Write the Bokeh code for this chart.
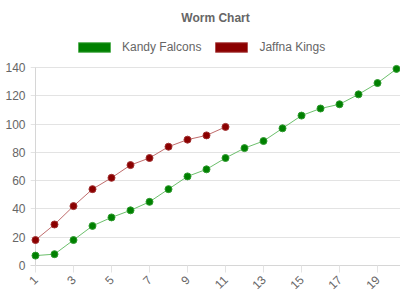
import math
from bokeh.plotting import figure
from bokeh.models import Legend, LegendItem, FixedTicker, Title, ColumnDataSource
from bokeh.embed import file_html
from bokeh.resources import INLINE

overs = list(range(1, 21))
kandy = [7, 8, 18, 28, 34, 39, 45, 54, 63, 68, 76, 83, 88, 97, 106, 111, 114, 121, 129, 139]
jaffna_overs = list(range(1, 12))
jaffna = [18, 29, 42, 54, 62, 71, 76, 84, 89, 92, 98]
x_ticks = list(range(1, 20, 2))
y_ticks = list(range(0, 141, 20))

FONT = "Liberation Sans"
TXT = "#666666"
GRID = "#e3e3e3"

p = figure(width=400, height=300, output_backend="svg", toolbar_location=None,
           x_range=(0.737, 20.21), y_range=(0, 166.87),
           min_border_left=30, min_border_right=0, min_border_bottom=35, min_border_top=29)
p.outline_line_color = None

p.title = Title(text="Worm Chart", align="center", text_font=FONT, text_font_size="12px",
                text_font_style="bold", text_color=TXT)

gsrc = ColumnDataSource(dict(x=overs, y=kandy))
rsrc = ColumnDataSource(dict(x=jaffna_overs, y=jaffna))

# y-axis line at the first over, from the lowest to highest y tick
p.segment(x0=overs[:1], y0=y_ticks[:1], x1=overs[:1], y1=y_ticks[-1:],
          line_color="#d6d6d6", line_width=1)

# legend proxies (zero-size, hidden under the markers)
gbox = p.rect("x", "y", source=gsrc, width=0, height=0, fill_color="#008000",
              line_color="#55b055", level="underlay")
rbox = p.rect("x", "y", source=rsrc, width=0, height=0, fill_color="#8b0000",
              line_color="#b05050", level="underlay")

p.line("x", "y", source=gsrc, line_color="#5cb85c", line_width=1, line_alpha=0.9)
p.scatter("x", "y", source=gsrc, size=7, fill_color="#008000", line_color="#2e9a2e")
p.line("x", "y", source=rsrc, line_color="#b85c5c", line_width=1, line_alpha=0.9)
p.scatter("x", "y", source=rsrc, size=7, fill_color="#8b0000", line_color="#a03030")

legend = Legend(items=[LegendItem(label="Kandy Falcons", renderers=[gbox]),
                       LegendItem(label="Jaffna Kings", renderers=[rbox])],
                orientation="horizontal", location=(40, 207),
                glyph_width=40, glyph_height=12, label_text_font=FONT,
                label_text_font_size="12px", label_text_color=TXT,
                border_line_alpha=0, background_fill_alpha=0,
                padding=4, margin=0, spacing=10, label_standoff=8)
p.add_layout(legend, "center")

for ax in (p.xaxis, p.yaxis):
    ax.major_tick_in = 0
    ax.minor_tick_line_color = None
    ax.major_label_text_font = FONT
    ax.major_label_text_font_size = "12px"
    ax.major_label_text_color = TXT

p.xaxis.axis_line_color = "#d6d6d6"
p.xaxis.major_tick_line_color = GRID
p.xaxis.major_tick_out = 7
p.xaxis.ticker = FixedTicker(ticks=x_ticks)
p.xaxis.major_label_orientation = math.pi / 4

p.yaxis.axis_line_color = None
p.yaxis.major_tick_line_color = None
p.yaxis.major_tick_out = 0
p.yaxis.ticker = FixedTicker(ticks=y_ticks)
p.yaxis.major_label_standoff = 5

p.xgrid.grid_line_color = None
p.ygrid.grid_line_color = GRID
p.ygrid.ticker = FixedTicker(ticks=y_ticks)

open("out.html", "w").write(file_html(p, INLINE))
